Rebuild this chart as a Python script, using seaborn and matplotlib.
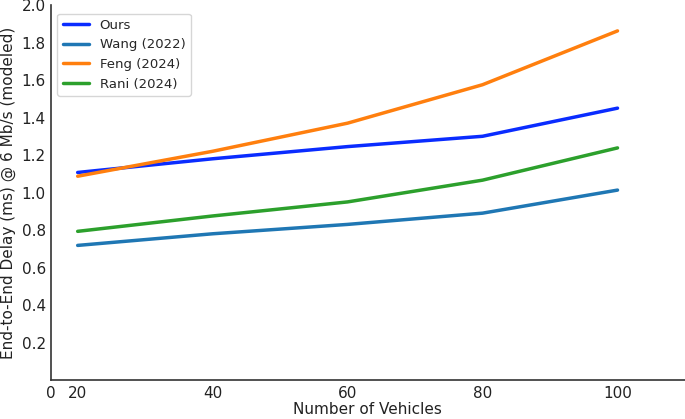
import numpy as np
import pandas as pd
import matplotlib
matplotlib.use("Agg")
import matplotlib.pyplot as plt
import seaborn as sns

# Data
vehicles = [20, 40, 60, 80, 100]
ours = [1.107, 1.18, 1.245, 1.30, 1.45]
wang = [0.718, 0.78, 0.83, 0.89, 1.013]
feng = [1.087, 1.22, 1.37, 1.575, 1.862]
rani = [0.793, 0.875, 0.95, 1.066, 1.238]

series = {"Ours": ours, "Wang (2022)": wang, "Feng (2024)": feng, "Rani (2024)": rani}
colors = {"Ours": "#0a2cff", "Wang (2022)": "#1f77b4", "Feng (2024)": "#ff7f0e", "Rani (2024)": "#2ca02c"}

df = pd.DataFrame([
    {"Vehicles": v, "Delay": d, "Method": name}
    for name, vals in series.items() for v, d in zip(vehicles, vals)
])

sns.set_style("white")
plt.rcParams['font.family'] = ['DejaVu Sans']

fig = plt.figure(figsize=(6.85, 4.19), dpi=100)
ax = fig.add_axes([0.074, 0.093, 0.926, 0.895])

sns.lineplot(data=df, x="Vehicles", y="Delay", hue="Method", palette=colors,
             linewidth=2.5, ax=ax)

ax.set_xlim(16, 110)
ax.set_ylim(0, 2.0)
ax.set_xticks([16, 20, 40, 60, 80, 100])
ax.set_xticklabels(["0", "20", "40", "60", "80", "100"])
ax.set_yticks(np.arange(0.2, 2.01, 0.2))
ax.set_yticklabels([f"{t:.1f}" for t in np.arange(0.2, 2.01, 0.2)])
ax.tick_params(direction="in", length=4, width=1, colors="#333333", labelsize=11,
               labelcolor="#222222")
ax.tick_params(axis="x", pad=4)

for s in ["top", "right"]:
    ax.spines[s].set_visible(False)
for s in ["left", "bottom"]:
    ax.spines[s].set_color("#333333")
    ax.spines[s].set_linewidth(1.2)

ax.set_xlabel("Number of Vehicles", fontsize=11, color="#222222", labelpad=1)
ax.set_ylabel("End-to-End Delay (ms) @ 6 Mb/s (modeled)", fontsize=11, color="#222222")

leg = ax.legend(loc="upper left", fontsize=9.5, frameon=True, bbox_to_anchor=(0.0, 0.995),
                handlelength=2.0)
leg.set_title(None)

fig.savefig("out.png", dpi=100)
